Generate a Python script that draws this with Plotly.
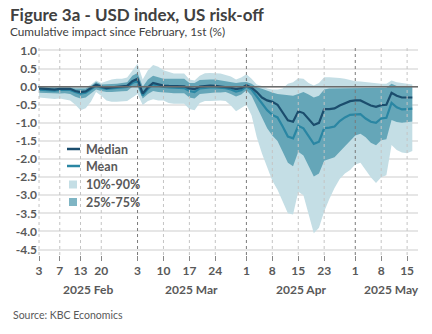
import pandas as pd
import plotly.graph_objects as go

W, H = 432, 334
ML, MR, MT, MB = 38, 14, 45, 79

# trading days (US holidays 17 Feb and 18 Apr excluded)
dates = [d.strftime("%Y-%m-%d") for d in pd.bdate_range("2025-02-03", "2025-05-16")
         if d.strftime("%Y-%m-%d") not in ("2025-02-17", "2025-04-18")]

p90 = [0.00, 0.00, -0.01, 0.00, 0.00, 0.01, 0.00, -0.02, -0.03, -0.02,
       0.05, 0.17, 0.10, 0.15, 0.20, 0.22, 0.22, 0.25, 0.45,
       0.63, 0.20, 0.45, 0.60, 0.55, 0.45, 0.40, 0.36, 0.36, 0.36,
       0.20, 0.17, 0.30, 0.37, 0.38, 0.38, 0.36, 0.32, 0.28, 0.20, 0.25,
       0.34, 0.22, 0.06, 0.02, -0.05, -0.08, -0.08, -0.05, 0.08, 0.12,
       0.23, 0.22, 0.10, 0.03, 0.10, 0.26, 0.26, 0.26, 0.24, 0.22, 0.18,
       0.15, 0.14, 0.12, 0.10, 0.10, 0.08, 0.08, 0.17, 0.12, 0.10, 0.08, 0.06]
p75 = [-0.02, -0.02, -0.03, -0.02, -0.02, -0.02, -0.03, -0.05, -0.06, -0.05,
       0.02, 0.13, 0.06, 0.06, 0.08, 0.08, 0.10, 0.12, 0.30,
       0.38, 0.00, 0.20, 0.30, 0.25, 0.22, 0.22, 0.22, 0.22, 0.22,
       0.10, 0.10, 0.18, 0.20, 0.20, 0.20, 0.18, 0.14, 0.12, 0.10, 0.12,
       0.13, 0.08, -0.02, -0.06, -0.12, -0.16, -0.20, -0.22, -0.25, -0.25,
       -0.20, -0.15, -0.22, -0.30, -0.25, -0.08, -0.05, -0.05, -0.04, -0.03, -0.03,
       -0.03, -0.03, -0.04, -0.05, -0.04, -0.03, -0.03, 0.08, 0.02, 0.00, 0.00, 0.00]
median = [-0.05, -0.06, -0.07, -0.08, -0.06, -0.05, -0.06, -0.12, -0.15, -0.13,
          -0.05, 0.05, 0.00, -0.04, -0.02, -0.01, 0.00, 0.02, 0.15,
          0.22, -0.19, -0.02, 0.10, 0.06, 0.03, 0.02, 0.02, 0.01, 0.01,
          -0.05, -0.07, 0.00, 0.02, 0.03, 0.02, 0.01, -0.01, -0.03, -0.07, -0.04,
          0.04, -0.03, -0.15, -0.30, -0.38, -0.42, -0.50, -0.70, -0.93, -0.97,
          -0.68, -0.73, -0.90, -1.06, -1.00, -0.62, -0.62, -0.60, -0.52, -0.45, -0.40,
          -0.38, -0.38, -0.45, -0.52, -0.56, -0.51, -0.50, -0.17, -0.25, -0.30, -0.30, -0.30]
mean = [-0.08, -0.09, -0.10, -0.11, -0.09, -0.08, -0.09, -0.15, -0.19, -0.17,
        -0.08, 0.02, -0.03, -0.06, -0.05, -0.04, -0.03, -0.01, 0.10,
        0.17, -0.24, -0.06, 0.06, 0.02, -0.01, -0.02, -0.03, -0.04, -0.04,
        -0.12, -0.15, -0.05, -0.03, -0.02, -0.02, -0.03, -0.04, -0.08, -0.14, -0.10,
        0.00, -0.08, -0.28, -0.48, -0.65, -0.78, -0.85, -1.10, -1.38, -1.43,
        -1.08, -1.15, -1.38, -1.58, -1.52, -1.15, -1.13, -1.10, -0.95, -0.85, -0.78,
        -0.76, -0.76, -0.88, -0.97, -1.00, -0.88, -0.86, -0.45, -0.57, -0.63, -0.62, -0.61]
p25 = [-0.17, -0.18, -0.19, -0.20, -0.19, -0.18, -0.20, -0.28, -0.33, -0.30,
       -0.18, -0.08, -0.12, -0.15, -0.15, -0.15, -0.13, -0.12, 0.00,
       0.00, -0.33, -0.20, -0.12, -0.15, -0.15, -0.17, -0.18, -0.18, -0.18,
       -0.30, -0.33, -0.20, -0.18, -0.17, -0.16, -0.16, -0.15, -0.20, -0.27, -0.22,
       -0.10, -0.25, -0.55, -0.85, -1.15, -1.35, -1.50, -1.80, -2.10, -2.20,
       -1.80, -1.90, -2.20, -2.48, -2.40, -2.05, -2.00, -1.95, -1.80, -1.65, -1.50,
       -1.35, -1.30, -1.40, -1.55, -1.62, -1.48, -1.45, -0.92, -0.98, -1.00, -0.98, -0.96]
p10 = [-0.30, -0.32, -0.33, -0.34, -0.33, -0.36, -0.38, -0.50, -0.65, -0.60,
       -0.42, -0.15, -0.25, -0.38, -0.42, -0.42, -0.40, -0.40, -0.30,
       -0.20, -0.51, -0.40, -0.35, -0.38, -0.38, -0.45, -0.47, -0.48, -0.47,
       -0.62, -0.65, -0.45, -0.40, -0.40, -0.38, -0.38, -0.40, -0.52, -0.68, -0.60,
       -0.50, -0.80, -1.40, -1.85, -2.25, -2.60, -2.85, -3.20, -3.50, -3.53,
       -2.90, -3.00, -3.50, -4.05, -3.90, -3.45, -3.10, -2.80, -2.55, -2.40, -2.30,
       -2.15, -2.10, -2.30, -2.50, -2.66, -2.50, -2.45, -1.61, -1.75, -1.82, -1.84, -1.78]

tick_dates = ["2025-02-03", "2025-02-07", "2025-02-13", "2025-02-20",
              "2025-03-03", "2025-03-10", "2025-03-17", "2025-03-24",
              "2025-04-01", "2025-04-08", "2025-04-15", "2025-04-23",
              "2025-05-01", "2025-05-08", "2025-05-15"]
tick_text = ["3", "7", "13", "20", "3", "10", "17", "24", "1", "8", "15", "23", "1", "8", "15"]
month_starts = ["2025-02-03", "2025-03-03", "2025-04-01", "2025-05-01"]
month_labels = ["2025 Feb", "2025 Mar", "2025 Apr", "2025 May"]
y_ticks = [1.0, 0.5, 0.0, -0.5, -1.0, -1.5, -2.0, -2.5, -3.0, -3.5, -4.0, -4.5]

LIGHT = "#c4dee5"
DARK = "rgba(38,128,153,0.6)"
DARK_LEG = "#7fb5c4"
MED_C = "#1b4d6d"
MEAN_C = "#2a86a3"
TXT = "#595959"
FONT = "Lato"

x = list(range(len(dates)))
tickvals = [dates.index(d) for d in tick_dates]

pw = W - ML - MR
ph = H - MT - MB
def px2x(p):
    return (p - ML) / pw
def px2y(p):
    return (H - MB - p) / ph

fig = go.Figure()
fig.add_trace(go.Scatter(x=x, y=p90, mode="lines", line=dict(width=0), showlegend=False, hoverinfo="skip"))
fig.add_trace(go.Scatter(x=x, y=p10, mode="lines", line=dict(width=0), fill="tonexty",
                         fillcolor=LIGHT, showlegend=False, hoverinfo="skip"))
fig.add_trace(go.Scatter(x=x, y=p75, mode="lines", line=dict(width=0), showlegend=False, hoverinfo="skip"))
fig.add_trace(go.Scatter(x=x, y=p25, mode="lines", line=dict(width=0), fill="tonexty",
                         fillcolor=DARK, showlegend=False, hoverinfo="skip"))
fig.add_trace(go.Scatter(x=x, y=mean, mode="lines", line=dict(width=2.2, color=MEAN_C), showlegend=False))
fig.add_trace(go.Scatter(x=x, y=median, mode="lines", line=dict(width=2.2, color=MED_C), showlegend=False))

shapes = []
for d in tick_dates:
    is_month = d in month_starts[1:]
    shapes.append(dict(type="line", xref="x", yref="paper", x0=dates.index(d), x1=dates.index(d),
                       y0=0, y1=1, layer="above",
                       line=dict(color="#7a7a7a" if is_month else "#c4c4c4", width=1, dash="dot")))
shapes.append(dict(type="line", xref="paper", yref="y", x0=0, x1=1, y0=0, y1=0, layer="above",
                   line=dict(color="#6b6b6b", width=1.5)))

# custom legend
shapes.append(dict(type="line", xref="paper", yref="paper", x0=px2x(67), x1=px2x(80),
                   y0=px2y(149), y1=px2y(149), line=dict(color=MED_C, width=2.5)))
shapes.append(dict(type="line", xref="paper", yref="paper", x0=px2x(67), x1=px2x(80),
                   y0=px2y(166), y1=px2y(166), line=dict(color=MEAN_C, width=2.5)))
shapes.append(dict(type="rect", xref="paper", yref="paper", x0=px2x(69), x1=px2x(77),
                   y0=px2y(188.5), y1=px2y(180.5), fillcolor=LIGHT, line=dict(width=0)))
shapes.append(dict(type="rect", xref="paper", yref="paper", x0=px2x(69), x1=px2x(77),
                   y0=px2y(206), y1=px2y(198), fillcolor=DARK_LEG, line=dict(width=0)))

annotations = []
for txt, py in [("Median", 149), ("Mean", 166), ("10%-90%", 184.5), ("25%-75%", 202)]:
    annotations.append(dict(text="<b>" + txt + "</b>", xref="paper", yref="paper",
                            x=px2x(84), y=px2y(py), xanchor="left", yanchor="middle",
                            showarrow=False, font=dict(family=FONT, size=12.5, color=TXT)))

bounds = [dates.index(m) for m in month_starts] + [len(dates) + 2]
for k, lab in enumerate(month_labels):
    annotations.append(dict(text="<b>" + lab + "</b>", xref="x", yref="paper",
                            x=(bounds[k] + bounds[k + 1]) / 2, y=px2y(289),
                            xanchor="center", yanchor="middle", showarrow=False,
                            font=dict(family=FONT, size=12, color=TXT)))

annotations.append(dict(text="<b>Figure 3a - USD index, US risk-off</b>", xref="paper", yref="paper",
                        x=px2x(8), y=px2y(14), xanchor="left", yanchor="middle", showarrow=False,
                        font=dict(family=FONT, size=17, color="#404040")))
annotations.append(dict(text="Cumulative impact since February, 1st (%)", xref="paper", yref="paper",
                        x=px2x(8), y=px2y(31), xanchor="left", yanchor="middle", showarrow=False,
                        font=dict(family=FONT, size=11.8, color="#404040")))
annotations.append(dict(text="Source: KBC Economics", xref="paper", yref="paper",
                        x=px2x(11), y=px2y(315), xanchor="left", yanchor="middle", showarrow=False,
                        font=dict(family=FONT, size=10.5, color=TXT)))

fig.update_layout(
    width=W, height=H,
    margin=dict(l=ML, r=MR, t=MT, b=MB),
    paper_bgcolor="white", plot_bgcolor="white",
    showlegend=False,
    shapes=shapes, annotations=annotations,
    xaxis=dict(range=[-0.2, 73.1], tickmode="array", tickvals=tickvals, ticktext=tick_text,
               showgrid=False, zeroline=False, showline=False,
               ticks="outside", ticklen=5, tickcolor="#888888", tickwidth=1,
               tickfont=dict(family=FONT, size=12, color=TXT, weight="bold")),
    yaxis=dict(range=[-4.65, 1.15], tickmode="array", tickvals=y_ticks,
               ticktext=[f"{v:.1f}" for v in y_ticks],
               showgrid=True, gridcolor="#e6e6e6", gridwidth=1.5, zeroline=False, showline=False,
               ticks="", tickfont=dict(family=FONT, size=12, color=TXT, weight="bold")),
)

fig.write_html("out.html")
